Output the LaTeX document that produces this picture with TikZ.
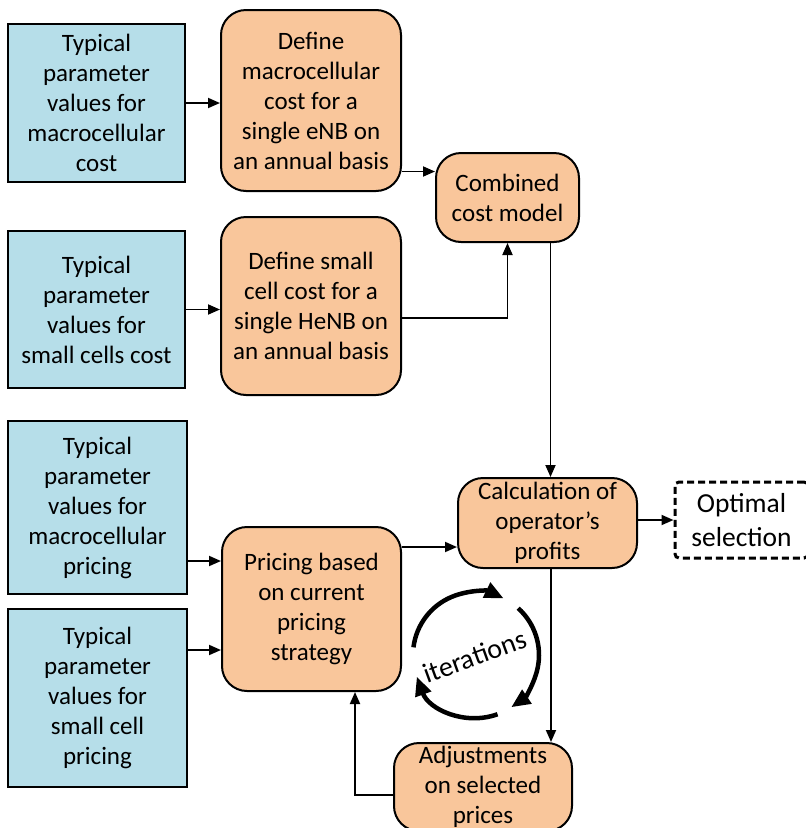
\documentclass[tikz,border=0pt]{standalone}
\usepackage{fontspec}
\setmainfont{Carlito}
\usetikzlibrary{arrows.meta,calc}
\definecolor{inblue}{RGB}{182,222,233}
\definecolor{procorange}{RGB}{249,198,155}
\tikzset{
  base/.style={draw=black, line width=2pt, align=center, inner sep=0pt,
    font=\fontsize{25}{30}\selectfont},
  inbox/.style={base, fill=inblue, rectangle},
  procbox/.style={base, fill=procorange, rounded corners=25pt},
  outbox/.style={base, fill=white, dashed, dash pattern=on 7pt off 4pt,
    line width=3pt, rounded corners=4pt, font=\fontsize{27.5}{34}\selectfont},
  arr/.style={line width=1.8pt, -{Triangle[length=12pt,width=10pt]}},
  iter/.style={line width=4.5pt, -{Triangle[length=19pt,width=16pt]}}
}
\begin{document}
\begin{tikzpicture}[x=1pt,y=-1pt]
\useasboundingbox (0,0) rectangle (806,828);
\clip (0,0) rectangle (806,828);

% input parameter boxes
\node[inbox, minimum width=177pt, minimum height=158pt] (b1) at (96.5,103)
  {Typical\\parameter\\values for\\macrocellular\\cost};
\node[inbox, minimum width=177pt, minimum height=157pt] (b2) at (96.5,309.5)
  {Typical\\parameter\\values for\\small cells cost};
\node[inbox, minimum width=179pt, minimum height=173pt] (b3) at (97.5,507.5)
  {Typical\\parameter\\values for\\macrocellular\\pricing};
\node[inbox, minimum width=179pt, minimum height=178pt] (b4) at (97.5,698)
  {Typical\\parameter\\values for\\small cell\\pricing};

% processing steps
\node[procbox, minimum width=180pt, minimum height=181pt] (o1) at (311,100.5)
  {Define\\macrocellular\\cost for a\\single eNB on\\an annual basis};
\node[procbox, minimum width=180pt, minimum height=178pt] (o2) at (311,306)
  {Define small\\cell cost for a\\single HeNB on\\an annual basis};
\node[procbox, minimum width=143pt, minimum height=89pt] (comb) at (507.5,197.5)
  {Combined\\cost model};
\node[procbox, minimum width=179pt, minimum height=164pt] (pric) at (311.5,609)
  {Pricing based\\on current\\pricing\\strategy};
\node[procbox, minimum width=179pt, minimum height=90pt] (calc) at (547.5,523)
  {Calculation of\\operator’s\\profits};
\node[procbox, minimum width=178pt, minimum height=88pt] (adj) at (483,787)
  {Adjustments\\on selected\\prices};
\node[outbox, minimum width=133pt, minimum height=76pt] (opt) at (741.5,520)
  {Optimal\\selection};

% connectors
\draw[arr] (b1.east) -- (b1.east -| o1.west);
\draw[arr] (b2.east) -- (b2.east -| o2.west);
\draw[arr] ([yshift=-53.5pt]b3.east) -- ([yshift=-53.5pt]b3.east -| pric.west);
\draw[arr] ([yshift=48pt]b4.east) -- ([yshift=48pt]b4.east -| pric.west);
\draw[arr] ([yshift=26pt]comb.west -| o1.east) -- ([yshift=26pt]comb.west);
\draw[arr] ([yshift=-12pt]o2.east) -| (comb.south);
\draw[arr] ([xshift=3pt]calc.north |- comb.south) -- ([xshift=3pt]calc.north);
\draw[arr] ([yshift=62pt]pric.east) -- ([yshift=62pt]pric.east -| calc.west);
\draw[arr] (calc.east |- opt.west) -- (opt.west);
\draw[arr] ([xshift=3.5pt]calc.south) -- ([xshift=3.5pt]calc.south |- adj.north);
\draw[arr] ([yshift=-8pt]adj.west) -| ([xshift=43.5pt]pric.south);

% iteration cycle
\coordinate (it) at (476,655);
\draw[iter] (it) ++(173:63pt) arc[start angle=173, end angle=64, radius=63pt];
\draw[iter] (it) ++(48:63pt) arc[start angle=48, end angle=-56, radius=63pt];
\draw[iter] (it) ++(-70:63pt) arc[start angle=-70, end angle=-160, radius=63pt];
\node[rotate=20, font=\fontsize{28}{32}\selectfont, inner sep=0pt] (itlabel) at (475,656) {iterations};
\end{tikzpicture}
\end{document}
